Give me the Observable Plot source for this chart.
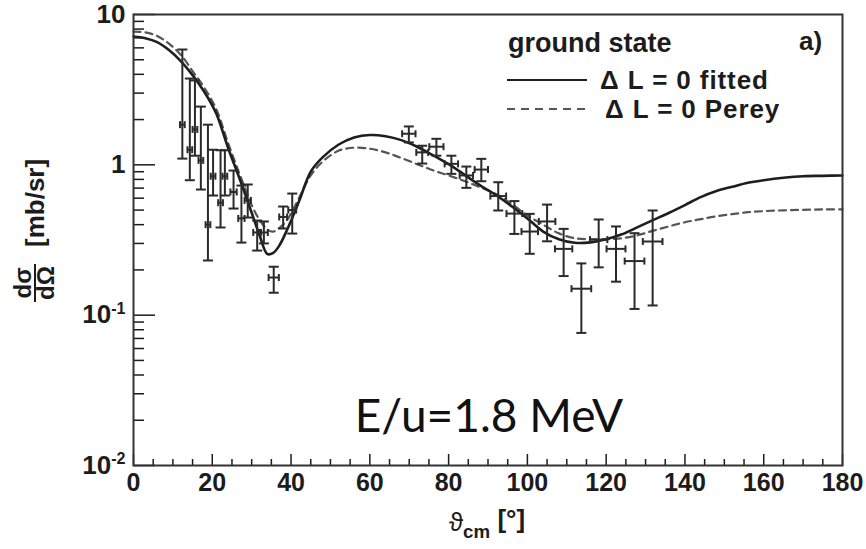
<!DOCTYPE html>
<html><head><meta charset="utf-8">
<script src="https://cdn.jsdelivr.net/npm/d3@7"></script>
<script src="https://cdn.jsdelivr.net/npm/@observablehq/plot@0.6"></script>
<style>body{margin:0;background:#fff;}</style>
</head><body><div id="chart"></div>
<script>
// ---- curves (theta_cm in degrees, dsigma/dOmega in mb/sr)
const curveAngle = [0,3,6,9,12,15,18,21,24,27,30,32,34,35.5,37,39,42,45,48,52,56,60,64,68,72,76,80,84,88,92,96,100,104,108,112,116,120,124,128,132,136,140,144,148,152,156,160,165,170,175,180];
const fittedValue = [7.14,6.95,6.55,5.8,4.9,3.95,3.05,2.2,1.3,0.80,0.48,0.34,0.255,0.26,0.29,0.37,0.57,0.90,1.12,1.36,1.52,1.58,1.55,1.46,1.32,1.16,1.01,0.86,0.73,0.63,0.53,0.44,0.36,0.32,0.303,0.305,0.32,0.345,0.385,0.43,0.48,0.54,0.61,0.67,0.715,0.76,0.79,0.82,0.84,0.845,0.85];
const pereyValue = [7.7,7.6,7.2,6.4,5.4,4.2,3.25,2.35,1.4,0.86,0.54,0.43,0.37,0.36,0.38,0.43,0.6,0.85,1.05,1.24,1.30,1.28,1.21,1.11,1.01,0.92,0.85,0.78,0.71,0.64,0.55,0.46,0.40,0.35,0.325,0.32,0.32,0.325,0.34,0.365,0.39,0.415,0.435,0.455,0.47,0.484,0.492,0.498,0.502,0.505,0.506];

// ---- data points
const ptAngle = [12.4,14.3,15.6,17.1,18.9,20.2,22.1,23.2,25.4,27.4,29.0,31.4,33.1,35.6,38.0,40.3,69.9,73.3,76.9,80.7,84.5,88.3,92.6,96.7,100.6,105.0,109.2,113.7,118.1,122.5,127.2,131.8];
const ptValue = [1.85,1.26,1.72,1.07,0.40,0.84,0.56,0.84,0.66,0.44,0.58,0.355,0.355,0.178,0.45,0.50,1.61,1.21,1.32,1.015,0.85,0.93,0.62,0.474,0.36,0.42,0.276,0.15,0.318,0.276,0.229,0.309];
const ptLow = [1.10,0.79,1.15,0.685,0.231,0.625,0.383,0.625,0.512,0.304,0.446,0.269,0.30,0.141,0.377,0.349,1.41,1.02,1.15,0.871,0.703,0.778,0.497,0.347,0.256,0.31,0.182,0.0762,0.208,0.167,0.110,0.116];
const ptHigh = [5.85,3.75,3.64,2.44,1.85,1.26,1.25,1.25,0.916,0.728,0.74,0.426,0.42,0.21,0.528,0.644,1.80,1.34,1.49,1.15,0.974,1.096,0.766,0.574,0.472,0.544,0.375,0.221,0.433,0.389,0.351,0.497];
const ptDx = [0.6,0.6,0.6,0.6,0.6,0.6,0.6,0.6,0.8,0.8,0.8,1.0,1.0,1.3,1.0,1.0,1.7,1.5,1.8,1.7,1.7,1.7,2.0,2.0,2.1,2.1,2.2,2.5,2.2,2.4,2.5,2.5];

// ---- ticks and labels
const xTicks = [0,20,40,60,80,100,120,140,160,180];
const xMinorTicks = [5,10,15,25,30,35,45,50,55,65,70,75,85,90,95,105,110,115,125,130,135,145,150,155,165,170,175];
const yTicks = [0.01,0.1,1,10];
const yTickBase = ["10","10","1","10"];
const yTickExp = ["-2","-1","",""];
const yMinorTicks = [0.02,0.03,0.04,0.05,0.06,0.07,0.08,0.09,0.2,0.3,0.4,0.5,0.6,0.7,0.8,0.9,2,3,4,5,6,7,8,9];
const legendTitle = "ground state";
const seriesLabels = ["\u0394 L = 0 fitted", "\u0394 L = 0 Perey"];
const panelLabel = "a)";
const energyLabel = "E/u=1.8 MeV";
const yTitleNum = "d\u03c3", yTitleDen = "d\u03a9", yTitleUnit = "[mb/sr]";
const xTitleSym = "\u03d1", xTitleSub = "cm", xTitleUnit = " [\u00b0]";

const fitted = curveAngle.map((a,i)=>({angle:a, value:fittedValue[i]}));
const perey = curveAngle.map((a,i)=>({angle:a, value:pereyValue[i]}));
const points = ptAngle.map((a,i)=>({angle:a, value:ptValue[i], low:ptLow[i], high:ptHigh[i], xlo:a-ptDx[i], xhi:a+ptDx[i]}));

const W=866, H=549, mL=133, mR=24, mT=14, mB=84;
const innerW = W-mL-mR, innerH = H-mT-mB;
const ff = "'Liberation Sans', Arial, Helvetica, sans-serif";
const ink = "#1c1c1c";
const hcap = {draw(ctx, size){ const w = Math.sqrt(size/Math.PI); ctx.moveTo(-w,0); ctx.lineTo(w,0); }};
const vcap = {draw(ctx, size){ const w = Math.sqrt(size/Math.PI); ctx.moveTo(0,-w); ctx.lineTo(0,w); }};
const eb = {stroke:"#2a2a2a", strokeWidth:2};

const chart = Plot.plot({
  width: W, height: H,
  marginLeft: mL, marginRight: mR, marginTop: mT, marginBottom: mB,
  style: {fontFamily: ff, background: "white", color: ink},
  x: {domain: [0,180]},
  y: {type: "log", domain: [0.01, 10]},
  marks: [
    Plot.tickX(xMinorTicks, {x: d=>d, insetTop: innerH-6, stroke: ink, strokeWidth: 1.5}),
    Plot.tickX(xTicks, {x: d=>d, insetTop: innerH-11, stroke: ink, strokeWidth: 1.5}),
    Plot.tickY(yMinorTicks, {y: d=>d, insetRight: innerW-11, stroke: ink, strokeWidth: 1.5}),
    Plot.tickY(yTicks, {y: d=>d, insetRight: innerW-22, stroke: ink, strokeWidth: 1.5}),
    Plot.axisX({ticks: xTicks, tickSize: 0, tickPadding: 8, fontSize: 25, fontWeight: "bold", label: null, fill: ink}),
    Plot.axisY({ticks: yTicks, tickSize: 0, tickPadding: 8, fontSize: 26, fontWeight: "bold", label: null, fill: ink,
      tickFormat: d => { const i = yTicks.indexOf(d); return yTickBase[i] + yTickExp[i]; }}),
    Plot.line(perey, {x:"angle", y:"value", curve:"catmull-rom", stroke:"#555", strokeWidth:2.2, strokeDasharray:"7,5"}),
    Plot.line(fitted, {x:"angle", y:"value", curve:"catmull-rom", stroke:"#1e1e1e", strokeWidth:2.6}),
    Plot.ruleX(points, {x:"angle", y1:"low", y2:"high", ...eb}),
    Plot.ruleY(points, {y:"value", x1:"xlo", x2:"xhi", ...eb}),
    Plot.dot(points, {x:"angle", y:"low", symbol: hcap, r:5, fill:"none", ...eb}),
    Plot.dot(points, {x:"angle", y:"high", symbol: hcap, r:5, fill:"none", ...eb}),
    Plot.dot(points, {x:"xlo", y:"value", symbol: vcap, r:3.5, fill:"none", ...eb}),
    Plot.dot(points, {x:"xhi", y:"value", symbol: vcap, r:3.5, fill:"none", ...eb}),
    Plot.frame({stroke: "#333", strokeWidth: 2})
  ]
});
document.getElementById("chart").appendChild(chart);

const svg = d3.select(chart);
// superscript exponents on y tick labels
svg.selectAll('g[aria-label="y-axis tick label"] text').each(function(_, i){
  const el = d3.select(this);
  const base = yTickBase[i], exp = yTickExp[i];
  if (!exp) return;
  el.text(null);
  el.append("tspan").text(base);
  el.append("tspan").attr("font-size", "0.62em").attr("dy", "-0.6em").text(exp);
});

const ann = svg.append("g").attr("font-family", ff).attr("fill", ink).attr("font-weight", "bold").attr("text-anchor", "start");
// legend
ann.append("text").attr("x", 508).attr("y", 52).attr("font-size", 27).text(legendTitle);
ann.append("text").attr("x", 799).attr("y", 50).attr("font-size", 26).text(panelLabel);
ann.append("line").attr("x1", 507).attr("x2", 587).attr("y1", 80).attr("y2", 80).attr("stroke", "#1e1e1e").attr("stroke-width", 2);
ann.append("text").attr("x", 600).attr("y", 89).attr("font-size", 26).attr("letter-spacing", 0.9).text(seriesLabels[0]);
ann.append("line").attr("x1", 507).attr("x2", 587).attr("y1", 109).attr("y2", 109).attr("stroke", "#555").attr("stroke-width", 2).attr("stroke-dasharray", "8,6");
ann.append("text").attr("x", 605).attr("y", 118).attr("font-size", 26).attr("letter-spacing", 0.9).text(seriesLabels[1]);

// energy label
svg.append("text").attr("x", 489).attr("y", 432).attr("text-anchor", "middle")
  .attr("font-family", "Lato, 'Open Sans', sans-serif").attr("font-size", 46).attr("fill", "#111").text(energyLabel);

// x title
const xt = ann.append("text").attr("x", 487).attr("y", 531).attr("text-anchor", "middle").attr("font-size", 26);
xt.append("tspan").attr("font-weight", "normal").text(xTitleSym);
xt.append("tspan").attr("font-size", "0.72em").attr("dy", "0.38em").text(xTitleSub);
xt.append("tspan").attr("dy", "-0.38em").text(xTitleUnit);

// y title
const yt = ann.append("g").attr("transform", "translate(35,283) rotate(-90)");
yt.append("text").attr("x", 0).attr("y", -4).attr("text-anchor", "middle").attr("font-size", 24).text(yTitleNum);
yt.append("line").attr("x1", -19).attr("x2", 19).attr("y1", 0).attr("y2", 0).attr("stroke", ink).attr("stroke-width", 2);
yt.append("text").attr("x", 0).attr("y", 19).attr("text-anchor", "middle").attr("font-size", 24).text(yTitleDen);
yt.append("text").attr("x", 36).attr("y", 9).attr("text-anchor", "start").attr("font-size", 26).text(yTitleUnit);
</script></body></html>
